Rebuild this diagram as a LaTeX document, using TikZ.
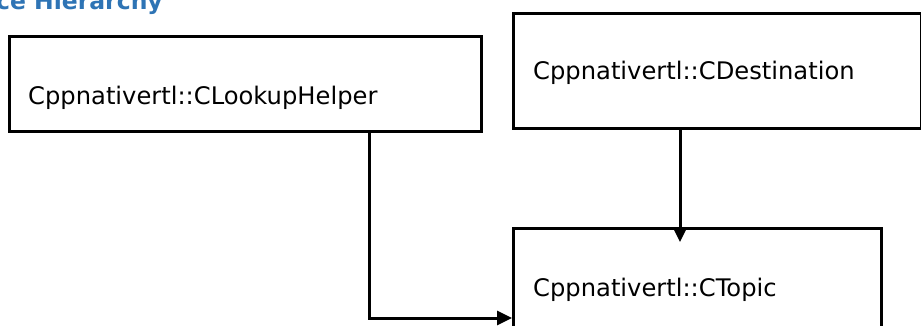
\documentclass[tikz,border=0pt]{standalone}
\usepackage{fontspec}
\setmainfont{DejaVu Sans}
\usetikzlibrary{arrows.meta}
\definecolor{headblue}{RGB}{46,116,181}
\begin{document}
\begin{tikzpicture}[x=1pt,y=-1pt,
  classbox/.style={draw=black,line width=2.9pt,fill=white,inner sep=0pt,anchor=north west},
  classname/.style={font=\fontsize{24.2}{29}\selectfont,inner sep=0pt,anchor=base west},
  arr/.style={draw=black,line width=3pt,-{Triangle[length=15pt,width=14pt]}}]
\useasboundingbox (0,0) rectangle (921,326);
\clip (0,0) rectangle (921,326);
\fill[white] (0,0) rectangle (921,326);

% section heading, cut off by the top edge
\node[font=\bfseries\fontsize{23.5}{28}\selectfont,text=headblue,inner sep=0pt,anchor=base east] (head) at (163,10) {ce Hierarchy};

% class boxes
\node[classbox,minimum width=472pt,minimum height=95pt] (b1) at (8,35) {};
\node[classbox,minimum width=408pt,minimum height=115pt] (b2) at (512,12) {};
\node[classbox,minimum width=368pt,minimum height=130pt] (b3) at (512,227) {};

\node[classname] (t1) at (28,105) {Cppnativertl::CLookupHelper};
\node[classname] (t2) at (533,80) {Cppnativertl::CDestination};
\node[classname] (t3) at (533,296) {Cppnativertl::CTopic};

% connectors
\coordinate (drop1) at (369,318);
\coordinate (tip2) at (680,242);
\draw[arr] (b1.south -| drop1) -- (drop1) -- (b3.west |- drop1);
\draw[arr] (b2.south -| tip2) -- (tip2);
\end{tikzpicture}
\end{document}
